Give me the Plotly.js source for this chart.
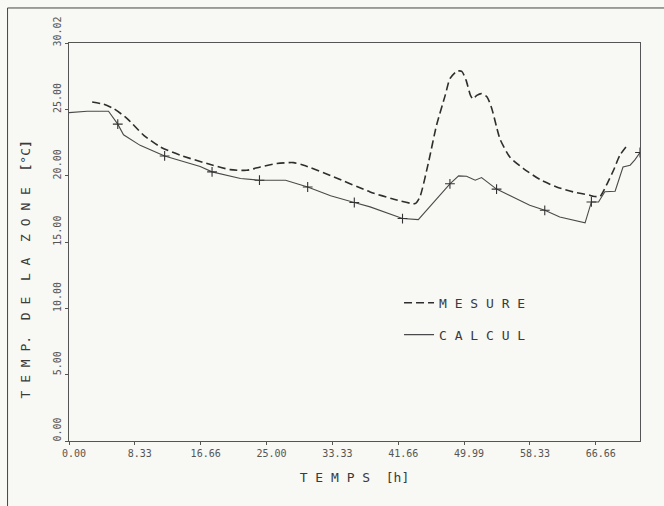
<!DOCTYPE html>
<html>
<head>
<meta charset="utf-8">
<script src="https://cdn.plot.ly/plotly-3.0.1.min.js"></script>
<style>html,body{margin:0;padding:0;background:#f8f8f4;}#chart{width:664px;height:506px;}</style>
</head>
<body>
<div id="chart"></div>
<script>
// MESURE (measured zone temperature), hours / deg C
const mesureTime = [2.93,4.4,5.66,7.36,9.46,11.57,14.1,17.9,20.4,22.5,24.2,26.3,28.4,29.7,33.5,38.1,41.1,43.8,44.4,45.5,46.5,47.6,48.2,49.1,49.7,50.25,50.8,51.1,51.6,52.2,52.9,53.5,54.1,54.55,55.8,57.5,59.6,61.7,63.8,65.9,66.3,67.2,68.0,68.9,69.7,70.8];
const mesureTemp = [25.57,25.4,25.07,24.32,23.06,22.18,21.55,20.85,20.47,20.42,20.67,20.93,21.0,20.8,19.92,18.79,18.24,17.91,18.41,21.05,23.8,26.07,27.33,27.9,27.88,27.2,26.07,25.8,26.07,26.2,25.95,25.07,23.69,22.75,21.4,20.55,19.72,19.16,18.79,18.54,18.46,18.46,19.3,20.42,21.55,22.43];
// CALCUL (computed zone temperature)
const calculTime = [0,2.3,5.0,6.17,6.9,9.0,12.1,16.6,18.1,21.7,24.1,27.4,30.2,33.1,36.1,38.1,42.2,44.2,48.2,49.3,50.3,51.4,52.2,54.1,58.3,60.2,62.1,65.3,66.1,67.0,67.8,69.1,70.1,71.0,71.6,72.25];
const calculTemp = [24.77,24.87,24.87,23.9,23.1,22.3,21.5,20.7,20.3,19.8,19.67,19.67,19.16,18.5,17.99,17.66,16.78,16.7,19.4,20.0,19.97,19.67,19.87,19.0,17.78,17.4,16.9,16.45,18.03,18.03,18.8,18.84,20.67,20.8,21.2,21.76];
// "+" marks on the CALCUL curve
const markTime = [6.17,12.1,18.1,24.1,30.2,36.1,42.2,48.2,54.1,60.2,66.1,72.25];
const markTemp = [23.9,21.5,20.3,19.67,19.16,17.99,16.78,19.4,19.0,17.4,18.03,21.76];
// axis ticks
const xTickVals = [0,8.33,16.66,25.0,33.33,41.66,49.99,58.33,66.66];
const xTickText = ["0.00","8.33","16.66","25.00","33.33","41.66","49.99","58.33","66.66"];
const yTickVals = [0,5,10,15,20,25,30.02];
const yTickText = ["0.00","5.00","10.00","15.00","20.00","25.00","30.02"];
const yTitle = "T E M P.  D E  L A  Z O N E  <b>[</b>°C<b>]</b>";
const xTitle = "T E M P S  [h]";

const FONT = "DejaVu Sans Mono, monospace";
const INK = "#3a3a3a";

const traces = [
  {x: mesureTime, y: mesureTemp, mode: "lines", name: "M E S U R E",
   line: {color: "#2e2e2e", width: 1.6, dash: "8px,4px", shape: "spline", smoothing: 0.6},
   legendgroup: "a"},
  {x: calculTime, y: calculTemp, mode: "lines", name: "C A L C U L",
   line: {color: "#4a4a4a", width: 1.1}, legendgroup: "b"},
  {x: markTime, y: markTemp, mode: "markers", showlegend: false,
   marker: {symbol: "cross-thin", size: 7, line: {color: "#333", width: 1.1}}}
];

const layout = {
  width: 664, height: 506,
  paper_bgcolor: "#f8f8f4", plot_bgcolor: "#f8f8f4",
  margin: {l: 68.5, r: 24, t: 43, b: 65},
  font: {family: FONT, color: INK, size: 10},
  showlegend: true,
  legend: {x: 0.578, y: 0.385, xanchor: "left", yanchor: "top",
           bgcolor: "rgba(0,0,0,0)", font: {family: FONT, size: 13, color: INK},
           traceorder: "grouped", tracegroupgap: 12, itemwidth: 30},
  xaxis: {range: [0, 72.25], tickvals: xTickVals, ticktext: xTickText,
          showgrid: false, zeroline: false, showline: true, mirror: true,
          linecolor: "#555", linewidth: 1, ticks: "outside", ticklen: 3, tickcolor: "#555",
          tickfont: {family: FONT, size: 10, color: "#555"}, ticklabelshift: 5,
          title: {text: xTitle, font: {family: FONT, size: 13, color: INK}, standoff: 14}},
  yaxis: {range: [0, 30.02], tickvals: yTickVals, ticktext: yTickText,
          showgrid: false, zeroline: false, showline: true, mirror: true,
          linecolor: "#555", linewidth: 1, ticks: "outside", ticklen: 3, tickcolor: "#555",
          tickangle: -90, ticklabelshift: -10,
          tickfont: {family: FONT, size: 10, color: "#555"}},
  annotations: [
    {text: yTitle, xref: "paper", yref: "paper", x: -0.076, y: 0.43,
     xanchor: "center", yanchor: "middle", textangle: -90, showarrow: false,
     font: {family: FONT, size: 13, color: INK}}
  ],
  shapes: [
    {type: "line", xref: "paper", yref: "paper", x0: -0.1076, x1: 1.05, y0: 1.088, y1: 1.088, line: {color: "#444", width: 1}},
    {type: "line", xref: "paper", yref: "paper", x0: -0.1076, x1: -0.1076, y0: 1.088, y1: -0.17, line: {color: "#444", width: 1}}
  ]
};

Plotly.newPlot("chart", traces, layout, {staticPlot: true, displayModeBar: false});
</script>
</body>
</html>
